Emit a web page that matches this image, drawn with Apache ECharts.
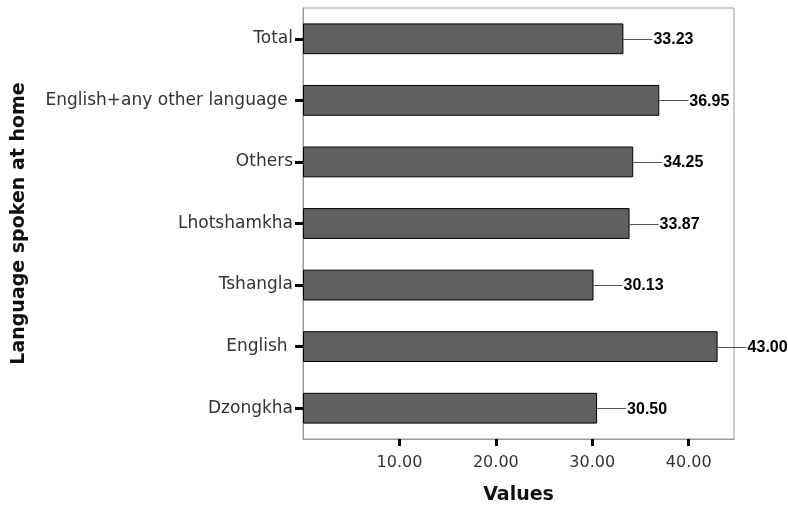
<!DOCTYPE html>
<html>
<head>
<meta charset="utf-8">
<script src="https://cdn.jsdelivr.net/npm/echarts@6/dist/echarts.min.js"></script>
<style>
  html, body { margin: 0; padding: 0; background: #fff; }
  #chart { width: 788px; height: 508px; }
</style>
</head>
<body>
<div id="chart"></div>
<script>
// Categories listed bottom to top (category axis starts at the bottom)
const categories = ['Dzongkha', 'English ', 'Tshangla', 'Lhotshamkha', 'Others', 'English+any other language ', 'Total'];
const values = [30.50, 43.00, 30.13, 33.87, 34.25, 36.95, 33.23];
const xTickValues = [10, 20, 30, 40];
const xAxisMax = 44.7;
const xAxisTitle = 'Values';
const yAxisTitle = 'Language spoken at home';

const chart = echarts.init(document.getElementById('chart'), null, { renderer: 'canvas' });

const option = {
  animation: false,
  backgroundColor: '#fff',
  grid: {
    left: 303, right: 54, top: 8, bottom: 69,
    containLabel: false,
    outerBoundsMode: 'none',
    show: true, borderColor: '#999', borderWidth: 1, backgroundColor: 'transparent'
  },
  xAxis: {
    type: 'value',
    min: 0,
    max: xAxisMax,
    name: xAxisTitle,
    nameLocation: 'middle',
    nameGap: 47,
    nameTextStyle: { fontFamily: 'DejaVu Sans', fontSize: 19, fontWeight: 'bold', color: '#111' },
    axisLine: { show: true, lineStyle: { color: '#999', width: 1 } },
    axisTick: { show: true, inside: false, length: 7, customValues: xTickValues, lineStyle: { color: '#000', width: 3 } },
    axisLabel: {
      show: true, margin: 16, customValues: xTickValues,
      fontFamily: 'DejaVu Sans', fontSize: 16, color: '#333',
      formatter: v => Number(v).toFixed(2)
    },
    splitLine: { show: false }
  },
  yAxis: {
    type: 'category',
    data: categories,
    name: yAxisTitle,
    nameLocation: 'middle',
    nameRotate: 90,
    nameGap: 274,
    nameTextStyle: { fontFamily: 'DejaVu Sans', fontSize: 19, fontWeight: 'bold', color: '#111' },
    axisLine: { show: true, lineStyle: { color: '#999', width: 1 } },
    axisTick: { show: true, alignWithLabel: true, length: 8, lineStyle: { color: '#000', width: 3 } },
    axisLabel: { margin: 10, padding: [8, 0, 0, 0], fontFamily: 'DejaVu Sans', fontSize: 17, color: '#333' },
    splitLine: { show: false }
  },
  series: [
    {
      type: 'bar',
      data: values,
      barWidth: '50%',
      itemStyle: { color: '#606060', borderColor: '#000', borderWidth: 1 },
      silent: true
    },
    {
      type: 'custom',
      clip: false,
      silent: true,
      encode: { x: 0, y: 1 },
      data: values.map((v, i) => [v, i]),
      renderItem: function (params, api) {
        const v = api.value(0);
        const i = api.value(1);
        const p = api.coord([v, i]);
        return {
          type: 'group',
          children: [
            {
              type: 'line',
              shape: { x1: p[0], y1: Math.round(p[1]) + 0.5, x2: p[0] + 29, y2: Math.round(p[1]) + 0.5 },
              style: { stroke: '#555', lineWidth: 1 }
            },
            {
              type: 'text',
              x: p[0] + 30,
              y: p[1] + 1,
              style: {
                text: v.toFixed(2),
                font: 'bold 16px "Liberation Sans", Arial, sans-serif',
                fill: '#000',
                textAlign: 'left',
                textVerticalAlign: 'middle'
              }
            }
          ]
        };
      }
    }
  ]
};

chart.setOption(option);
</script>
</body>
</html>
